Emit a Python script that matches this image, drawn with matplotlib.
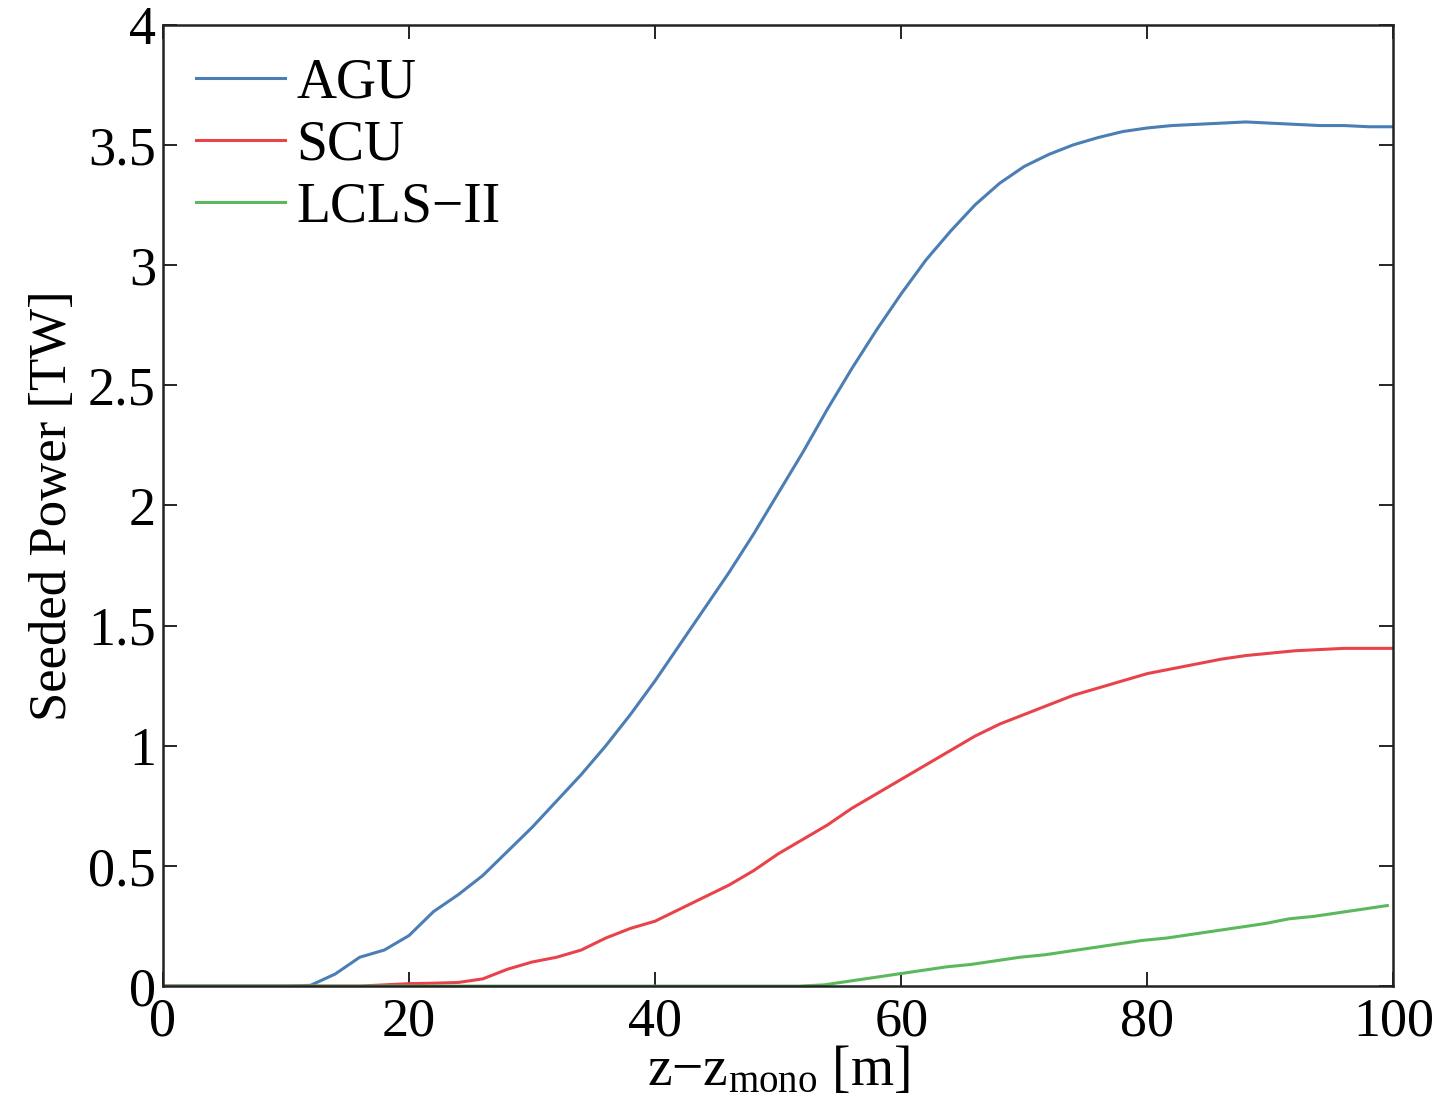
import numpy as np
import matplotlib
matplotlib.use("Agg")
from matplotlib import pyplot as plt

# data
z = [0, 5, 10, 12, 14, 16, 18, 20, 22, 24, 26, 28, 30, 32, 34, 36, 38,
     40, 42, 44, 46, 48, 50, 52, 54, 56, 58, 60, 62, 64, 66, 68, 70, 72,
     74, 76, 78, 80, 82, 84, 86, 88, 90, 92, 94, 96, 98, 100]
agu = [0, 0, 0, 0.003, 0.05, 0.12, 0.15, 0.21, 0.31, 0.38, 0.46, 0.56,
       0.66, 0.77, 0.88, 1.0, 1.13, 1.27, 1.42, 1.57, 1.72, 1.88, 2.05,
       2.22, 2.40, 2.57, 2.73, 2.88, 3.02, 3.14, 3.25, 3.34, 3.41, 3.46,
       3.50, 3.53, 3.555, 3.57, 3.58, 3.585, 3.59, 3.595, 3.59, 3.585,
       3.58, 3.58, 3.575, 3.575]
scu = [0, 0, 0, 0, 0, 0, 0.005, 0.01, 0.012, 0.015, 0.03, 0.07, 0.10,
       0.12, 0.15, 0.20, 0.24, 0.27, 0.32, 0.37, 0.42, 0.48, 0.55, 0.61,
       0.67, 0.74, 0.80, 0.86, 0.92, 0.98, 1.04, 1.09, 1.13, 1.17, 1.21,
       1.24, 1.27, 1.30, 1.32, 1.34, 1.36, 1.375, 1.385, 1.395, 1.40,
       1.405, 1.405, 1.405]
lcls = [0, 0, 0, 0, 0, 0, 0, 0, 0, 0, 0, 0, 0, 0, 0, 0, 0, 0, 0, 0, 0, 0,
        0, 0, 0.005, 0.02, 0.035, 0.05, 0.065, 0.08, 0.09, 0.105, 0.12,
        0.13, 0.145, 0.16, 0.175, 0.19, 0.20, 0.215, 0.23, 0.245, 0.26,
        0.28, 0.29, 0.305, 0.32, 0.335]
labels = ["AGU", "SCU", "LCLS\u2212II"]
colors = ["#4a7eb4", "#e8434a", "#5cb85c"]

plt.rcParams['font.family'] = ['Liberation Serif', 'DejaVu Serif']
plt.rcParams['mathtext.fontset'] = 'custom'
plt.rcParams['mathtext.rm'] = 'Liberation Serif'
plt.rcParams['mathtext.it'] = 'Liberation Serif'

fig = plt.figure(figsize=(14.41, 11.18), dpi=100)
ax = fig.add_axes([0.113, 0.118, 0.854, 0.86])

for y, lab, c in zip([agu, scu, lcls], labels, colors):
    x = np.array(z, dtype=float)
    if lab.startswith("LCLS"):
        x = x * 0.995
    ax.plot(x, y, color=c, lw=2.2, label=lab)

ax.set_xlim(0, 100)
ax.set_ylim(0, 4)
ax.set_xticks([0, 20, 40, 60, 80, 100])
ax.set_yticks(np.arange(0, 4.01, 0.5))
ax.set_yticklabels(["0", "0.5", "1", "1.5", "2", "2.5", "3", "3.5", "4"])
ax.tick_params(direction='in', top=True, right=True, length=10, width=1.2,
               labelsize=39, pad=5)
ax.tick_params(axis='x', pad=8)
for s in ax.spines.values():
    s.set_linewidth(1.8)
    s.set_color('#222222')

ax.set_xlabel(r"z$-$z$_{\mathrm{mono}}$ [m]", fontsize=40, labelpad=-2)
ax.set_ylabel("Seeded Power [TW]", fontsize=38, labelpad=8)

ax.legend(loc='upper left', frameon=False, fontsize=40, handlelength=1.6,
          handletextpad=0.2, labelspacing=0.18, borderaxespad=0.2,
          bbox_to_anchor=(0.0, 1.0))

fig.savefig("out.png", dpi=100)
